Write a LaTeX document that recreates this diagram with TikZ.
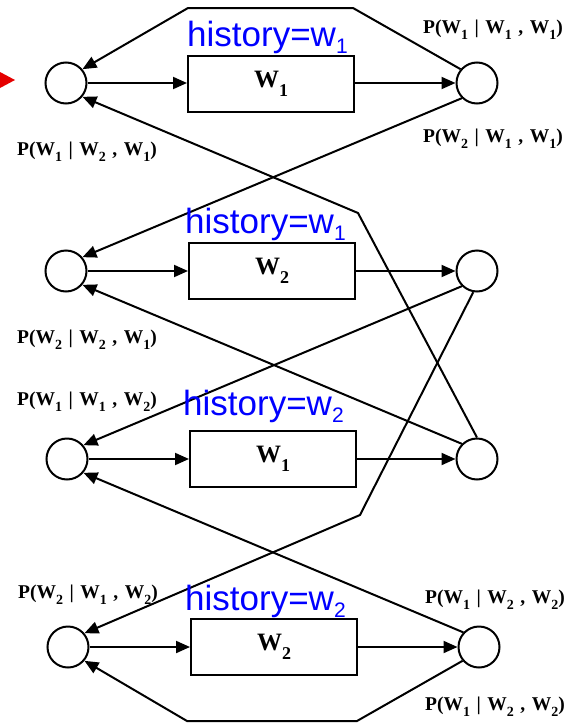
\documentclass[tikz,border=0pt]{standalone}
\usepackage{fontspec}
\setmainfont{Liberation Serif}
\newfontfamily\hsans{Liberation Sans}
\usetikzlibrary{arrows.meta}
\newcommand{\psub}[1]{\raisebox{-0.32em}{\fontsize{14}{14}\selectfont #1}}
\newcommand{\plab}[3]{P(W\psub{#1}\,\,|\,\,W\psub{#2}\,\,,\,\,W\psub{#3})}
\newcommand{\wlab}[1]{W\raisebox{-0.35em}{\fontsize{18}{18}\selectfont #1}}
\newcommand{\hlab}[1]{history=w\raisebox{-0.2em}{\fontsize{21}{21}\selectfont #1}}
\begin{document}
\begin{tikzpicture}[x=1pt,y=-1pt,
  st/.style={circle, draw, line width=2pt, minimum size=41pt, inner sep=0pt},
  wbox/.style={draw, line width=2pt, minimum width=166pt, minimum height=56pt, inner sep=0pt,
    font=\bfseries\fontsize{25}{25}\selectfont},
  con/.style={line width=2pt},
  arr/.style={con, -{Triangle[length=14pt,width=12pt]}},
  hist/.style={text=blue, font=\hsans\fontsize{35}{35}\selectfont, anchor=base west, inner sep=0pt},
  plabel/.style={font=\bfseries\fontsize{19.5}{19.5}\selectfont, anchor=base west, inner sep=0pt}]
\fill[white] (0,0) rectangle (574,723);
\useasboundingbox (0,0) rectangle (574,723);
% red pointer
\fill[red!90!black] (0,72) -- (15,80) -- (0,88) -- cycle;
% states
\node[st] (L1) at (66,83) {};
\node[st] (L2) at (66,271) {};
\node[st] (L3) at (67,459) {};
\node[st] (L4) at (68,647) {};
\node[st] (R1) at (477,83) {};
\node[st] (R2) at (477,271) {};
\node[st] (R3) at (477,459) {};
\node[st] (R4) at (479,647) {};
% word models
\node[wbox] (B1) at (271,84) {\wlab{1}};
\node[wbox] (B2) at (272,271) {\wlab{2}};
\node[wbox] (B3) at (273,459) {\wlab{1}};
\node[wbox] (B4) at (274,647) {\wlab{2}};
% bend points
\coordinate (t1) at (353,8);
\coordinate (t2) at (188,8);
\coordinate (m1) at (358,213);
\coordinate (m2) at (360,515);
\coordinate (b1) at (357,721);
\coordinate (b2) at (187,721);
% horizontal arrows
\foreach \i in {1,2,3,4} {
  \draw[arr] (L\i) -- (L\i -| B\i.west);
  \draw[arr] (B\i.east |- R\i) -- (R\i);
}
% cross connections
\draw[arr] (R1.140) -- (t1) -- (t2) -- (L1.40);
\draw[arr] (R1.225) -- (L2.40);
\draw[arr] (R3.north) -- (m1) -- (L1.-40);
\draw[arr] (R3.135) -- (L2.-40);
\draw[arr] (R2.225) -- (L3.40);
\draw[arr] (R2.260) -- (m2) -- (L4.40);
\draw[arr] (R4.137) -- (L3.-40);
\draw[arr] (R4.220) -- (b1) -- (b2) -- (L4.-40);
% probability labels
\node[plabel] (p1) at (423,33) {\plab{1}{1}{1}};
\node[plabel] (p2) at (423,142) {\plab{2}{1}{1}};
\node[plabel] (p3) at (17,155) {\plab{1}{2}{1}};
\node[plabel] (p4) at (17,343) {\plab{2}{2}{1}};
\node[plabel] (p5) at (17,405) {\plab{1}{1}{2}};
\node[plabel] (p6) at (18,598) {\plab{2}{1}{2}};
\node[plabel] (p7) at (425,603) {\plab{1}{2}{2}};
\node[plabel] (p8) at (425,710) {\plab{1}{2}{2}};
% history labels
\node[hist] (h1) at (187,46) {\hlab{1}};
\node[hist] (h2) at (185,233) {\hlab{1}};
\node[hist] (h3) at (183,415) {\hlab{2}};
\node[hist] (h4) at (185,610) {\hlab{2}};
\end{tikzpicture}
\end{document}
